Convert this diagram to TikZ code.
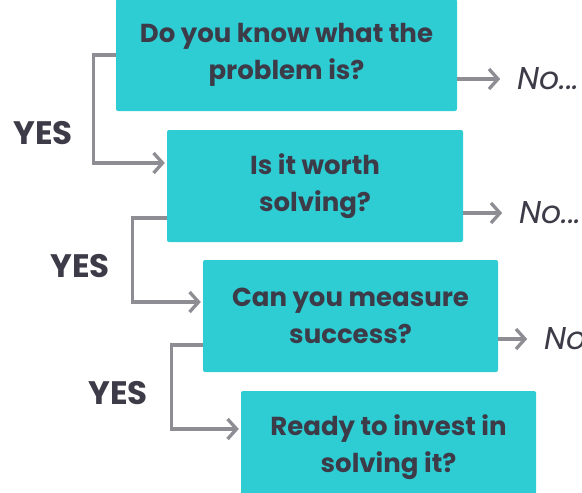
\documentclass[tikz,border=0pt]{standalone}
\usepackage{fontspec}
\setmainfont{Poppins}
\usetikzlibrary{arrows.meta,positioning}
\definecolor{caixa}{HTML}{2ECCD3}
\definecolor{seta}{HTML}{8E8D94}
\definecolor{texto}{HTML}{3C3B47}

\begin{document}
\begin{tikzpicture}[x=1pt,y=-1pt,
    pergunta/.style={fill=caixa, rounded corners=2pt, text=texto, inner sep=0pt,
        minimum height=112pt, align=center, font=\bfseries\fontsize{26}{37}\selectfont},
    sim/.style={text=texto, inner sep=0pt, font=\bfseries\fontsize{32.5}{34}\selectfont},
    nao/.style={text=texto, inner sep=0pt, anchor=west, font=\itshape\fontsize{31.5}{33}\selectfont},
    liga/.style={draw=seta, line width=3.3pt, -{Straight Barb[length=9pt,width=20pt]}}]
    \useasboundingbox (0,0) rectangle (582,493);
    \clip (0,0) rectangle (582,493);

    %perguntas
    \node[pergunta, minimum width=341pt] (q1) at (286.5,55) {Do you know what the\\problem is?};
    \node[pergunta, minimum width=296pt] (q2) at (315,186) {Is it worth\\solving?};
    \node[pergunta, minimum width=295pt] (q3) at (350.5,316) {Can you measure\\success?};
    \node[pergunta, minimum width=295pt] (q4) at (388.5,447) {Ready to invest in\\solving it?};

    %caminho do sim
    \foreach \a/\b/\sai/\entra/\dx in {
        q1/q2/0/23/22, q2/q3/-32/14/34, q3/q4/-29/18/31
    } {
        \draw[liga, shorten >=2pt] ([yshift=\sai pt]\a.west) -- ++(-\dx,0) |- ([yshift=\entra pt]\b.west);
    }
    \foreach \nome/\x/\y in {s1/43/133, s2/80/266, s3/118/393} {
        \node[sim] (\nome) at (\x,\y) {YES};
    }

    %caminho do nao
    \foreach \q/\dy/\comp in {q1/-24/43, q2/-27/39, q3/-23/29} {
        \coordinate (\q-fim) at ([yshift=\dy pt, xshift=\comp pt]\q.east);
        \draw[liga] ([yshift=\dy pt]\q.east) -- (\q-fim);
        \node[nao] (\q-nao) at ([xshift=17pt]\q-fim) {No...};
    }
\end{tikzpicture}
\end{document}
